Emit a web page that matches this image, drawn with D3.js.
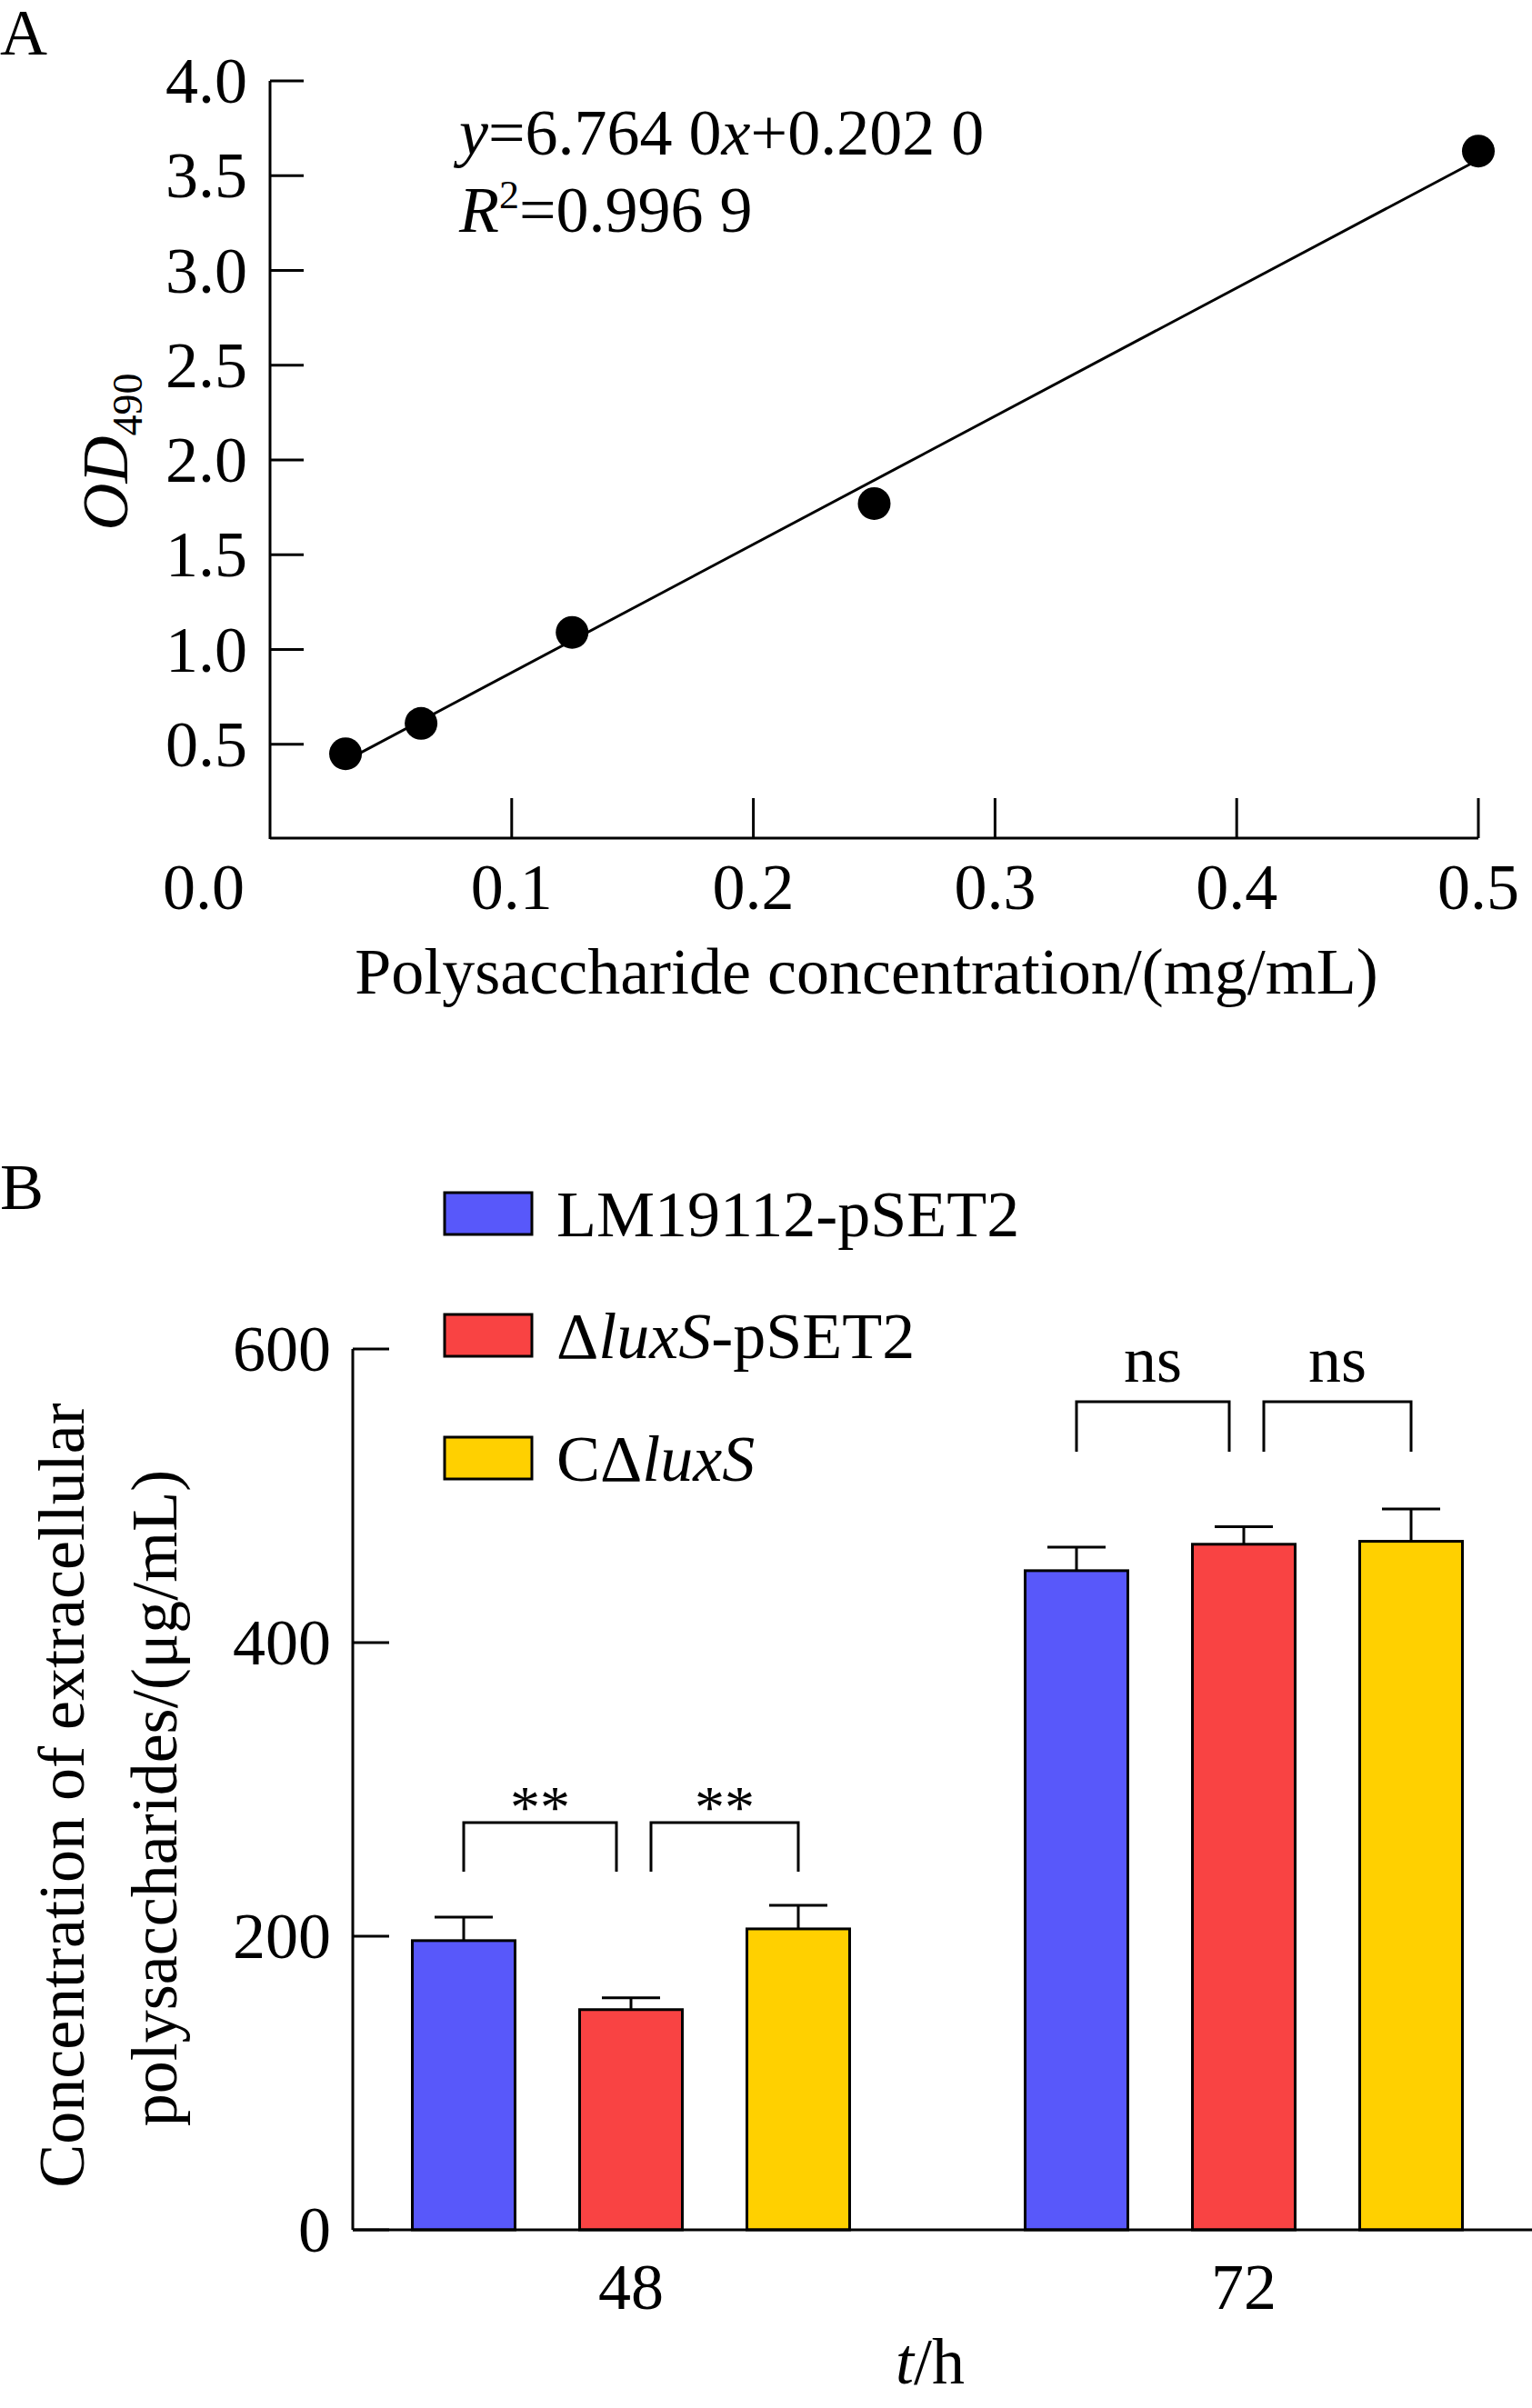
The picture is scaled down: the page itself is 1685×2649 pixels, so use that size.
<!DOCTYPE html><html><head><meta charset="utf-8"><script src="https://cdn.jsdelivr.net/npm/d3@7"></script>
<style>body{margin:0;background:#fff}text{font-family:"Liberation Serif","Times New Roman",serif;fill:#000}</style></head><body>
<svg id="c" width="1685" height="2649"></svg>
<script>
const concX=[0.03125,0.0625,0.125,0.25,0.5];
const odY=[0.45,0.61,1.09,1.77,3.63];
const fitSlope=6.764, fitIntercept=0.202;
const xTicksA=[0,0.1,0.2,0.3,0.4,0.5];
const yTicksA=[0.5,1.0,1.5,2.0,2.5,3.0,3.5,4.0];
const groups=["48","72"];
const strains=["LM19112-pSET2","ΔluxS-pSET2","CΔluxS"];
const colors=["#5858fa","#f94343","#ffd000"];
const means48=[197,150,205], err48=[16,8,16];
const means72=[449,467,469], err72=[16,12,22];
const yTicksB=[0,200,400,600];

const FS=72;
const svg=d3.select("#c");
const black="#000";
// Panel A
const xA=d3.scaleLinear().domain([0,0.5]).range([297,1626]);
const yA=d3.scaleLinear().domain([0,4]).range([923,89]);
svg.append("text").attr("x",0).attr("y",60).attr("font-size",FS).text("A");
svg.append("line").attr("x1",297).attr("x2",297).attr("y1",89).attr("y2",923).attr("stroke",black).attr("stroke-width",3);
svg.append("line").attr("x1",297).attr("x2",1626).attr("y1",922).attr("y2",922).attr("stroke",black).attr("stroke-width",3);
yTicksA.forEach(v=>{svg.append("line").attr("x1",297).attr("x2",334).attr("y1",yA(v)).attr("y2",yA(v)).attr("stroke",black).attr("stroke-width",3);
 svg.append("text").attr("x",272).attr("y",yA(v)+24).attr("text-anchor","end").attr("font-size",FS).text(v.toFixed(1));});
xTicksA.forEach(v=>{ if(v>0) svg.append("line").attr("x1",xA(v)).attr("x2",xA(v)).attr("y1",922).attr("y2",878).attr("stroke",black).attr("stroke-width",3);
 svg.append("text").attr("x",v===0?224:xA(v)).attr("y",1000).attr("text-anchor","middle").attr("font-size",FS).text(v.toFixed(1));});
svg.append("line").attr("x1",xA(concX[0])).attr("y1",yA(fitSlope*concX[0]+fitIntercept)).attr("x2",xA(0.5)).attr("y2",yA(fitSlope*0.5+fitIntercept)).attr("stroke",black).attr("stroke-width",3);
svg.selectAll("circle.p").data(concX).enter().append("circle").attr("cx",d=>xA(d)).attr("cy",(d,i)=>yA(odY[i])).attr("r",18).attr("fill",black);
let t=svg.append("text").attr("x",505).attr("y",170).attr("font-size",FS);
t.append("tspan").attr("font-style","italic").text("y");t.append("tspan").text("=6.764 0");t.append("tspan").attr("font-style","italic").text("x");t.append("tspan").text("+0.202 0");
t=svg.append("text").attr("x",505).attr("y",255).attr("font-size",FS);
t.append("tspan").attr("font-style","italic").text("R");t.append("tspan").attr("font-size",44).attr("dy",-26).text("2");t.append("tspan").attr("dy",26).text("=0.996 9");
svg.append("text").attr("x",953).attr("y",1093).attr("text-anchor","middle").attr("font-size",FS).text("Polysaccharide concentration/(mg/mL)");
t=svg.append("text").attr("transform","translate(140,497) rotate(-90)").attr("text-anchor","middle").attr("font-size",FS);
t.append("tspan").attr("font-style","italic").text("OD");t.append("tspan").attr("font-size",46).attr("dy",16).text("490");

// Panel B
const yB=d3.scaleLinear().domain([0,600]).range([2453,1484]);
const x0=d3.scalePoint().domain(groups).range([694,1368]);
const x1=d3.scaleBand().domain(strains).range([-276,276]).paddingInner(0.386).paddingOuter(0.193);
svg.append("text").attr("x",0).attr("y",1330).attr("font-size",FS).text("B");
const data=[means48,means72], errs=[err48,err72];
groups.forEach((g,gi)=>strains.forEach((s,si)=>{
 const x=x0(g)+x1(s), v=data[gi][si], e=errs[gi][si], cx=x+x1.bandwidth()/2;
 svg.append("line").attr("x1",cx).attr("x2",cx).attr("y1",yB(v)).attr("y2",yB(v+e)).attr("stroke",black).attr("stroke-width",3);
 svg.append("line").attr("x1",cx-32).attr("x2",cx+32).attr("y1",yB(v+e)).attr("y2",yB(v+e)).attr("stroke",black).attr("stroke-width",3);
 svg.append("rect").attr("x",x).attr("y",yB(v)).attr("width",x1.bandwidth()).attr("height",yB(0)-yB(v)).attr("fill",colors[si]).attr("stroke",black).attr("stroke-width",3);
}));
svg.append("line").attr("x1",388).attr("x2",388).attr("y1",1484).attr("y2",2453).attr("stroke",black).attr("stroke-width",3);
svg.append("line").attr("x1",388).attr("x2",1685).attr("y1",2453).attr("y2",2453).attr("stroke",black).attr("stroke-width",3);
yTicksB.forEach(v=>{svg.append("line").attr("x1",388).attr("x2",428).attr("y1",yB(v)).attr("y2",yB(v)).attr("stroke",black).attr("stroke-width",3);
 svg.append("text").attr("x",364).attr("y",yB(v)+24).attr("text-anchor","end").attr("font-size",FS).text(v);});
groups.forEach(g=>svg.append("text").attr("x",x0(g)).attr("y",2540).attr("text-anchor","middle").attr("font-size",FS).text(g));
t=svg.append("text").attr("x",1023).attr("y",2622).attr("text-anchor","middle").attr("font-size",FS);
t.append("tspan").attr("font-style","italic").text("t");t.append("tspan").text("/h");
svg.append("text").attr("transform","translate(92,1975) rotate(-90)").attr("text-anchor","middle").attr("font-size",FS).text("Concentration of extracellular");
svg.append("text").attr("transform","translate(194,1978) rotate(-90)").attr("text-anchor","middle").attr("font-size",FS).text("polysaccharides/(μg/mL)");
// brackets
const brackets=[["48",0,1,"**"],["48",1,2,"**"],["72",0,1,"ns"],["72",1,2,"ns"]];
brackets.forEach(([g,a,b,lab])=>{
 const ca=x0(g)+x1(strains[a])+x1.bandwidth()/2, cb=x0(g)+x1(strains[b])+x1.bandwidth()/2;
 const xa=a===0?ca:ca+22, xb=b===1?cb-16:cb;
 const ytop=g==="48"?2005:1542, yleg=g==="48"?2059:1597;
 svg.append("path").attr("d",`M${xa},${yleg}V${ytop}H${xb}V${yleg}`).attr("fill","none").attr("stroke",black).attr("stroke-width",3);
 svg.append("text").attr("x",(xa+xb)/2).attr("y",lab==="**"?2010:1520).attr("text-anchor","middle").attr("font-size",lab==="**"?66:FS).text(lab);
});
// legend
const ly=[1335,1469,1604];
strains.forEach((s,i)=>{
 svg.append("rect").attr("x",489).attr("y",ly[i]-23).attr("width",96).attr("height",46).attr("fill",colors[i]).attr("stroke",black).attr("stroke-width",3);
 const tt=svg.append("text").attr("x",612).attr("y",ly[i]+25).attr("font-size",FS);
 if(i===0) tt.text(s);
 else if(i===1){tt.append("tspan").text("Δ");tt.append("tspan").attr("font-style","italic").text("luxS");tt.append("tspan").text("-pSET2");}
 else {tt.append("tspan").text("CΔ");tt.append("tspan").attr("font-style","italic").text("luxS");}
});
</script></body></html>
